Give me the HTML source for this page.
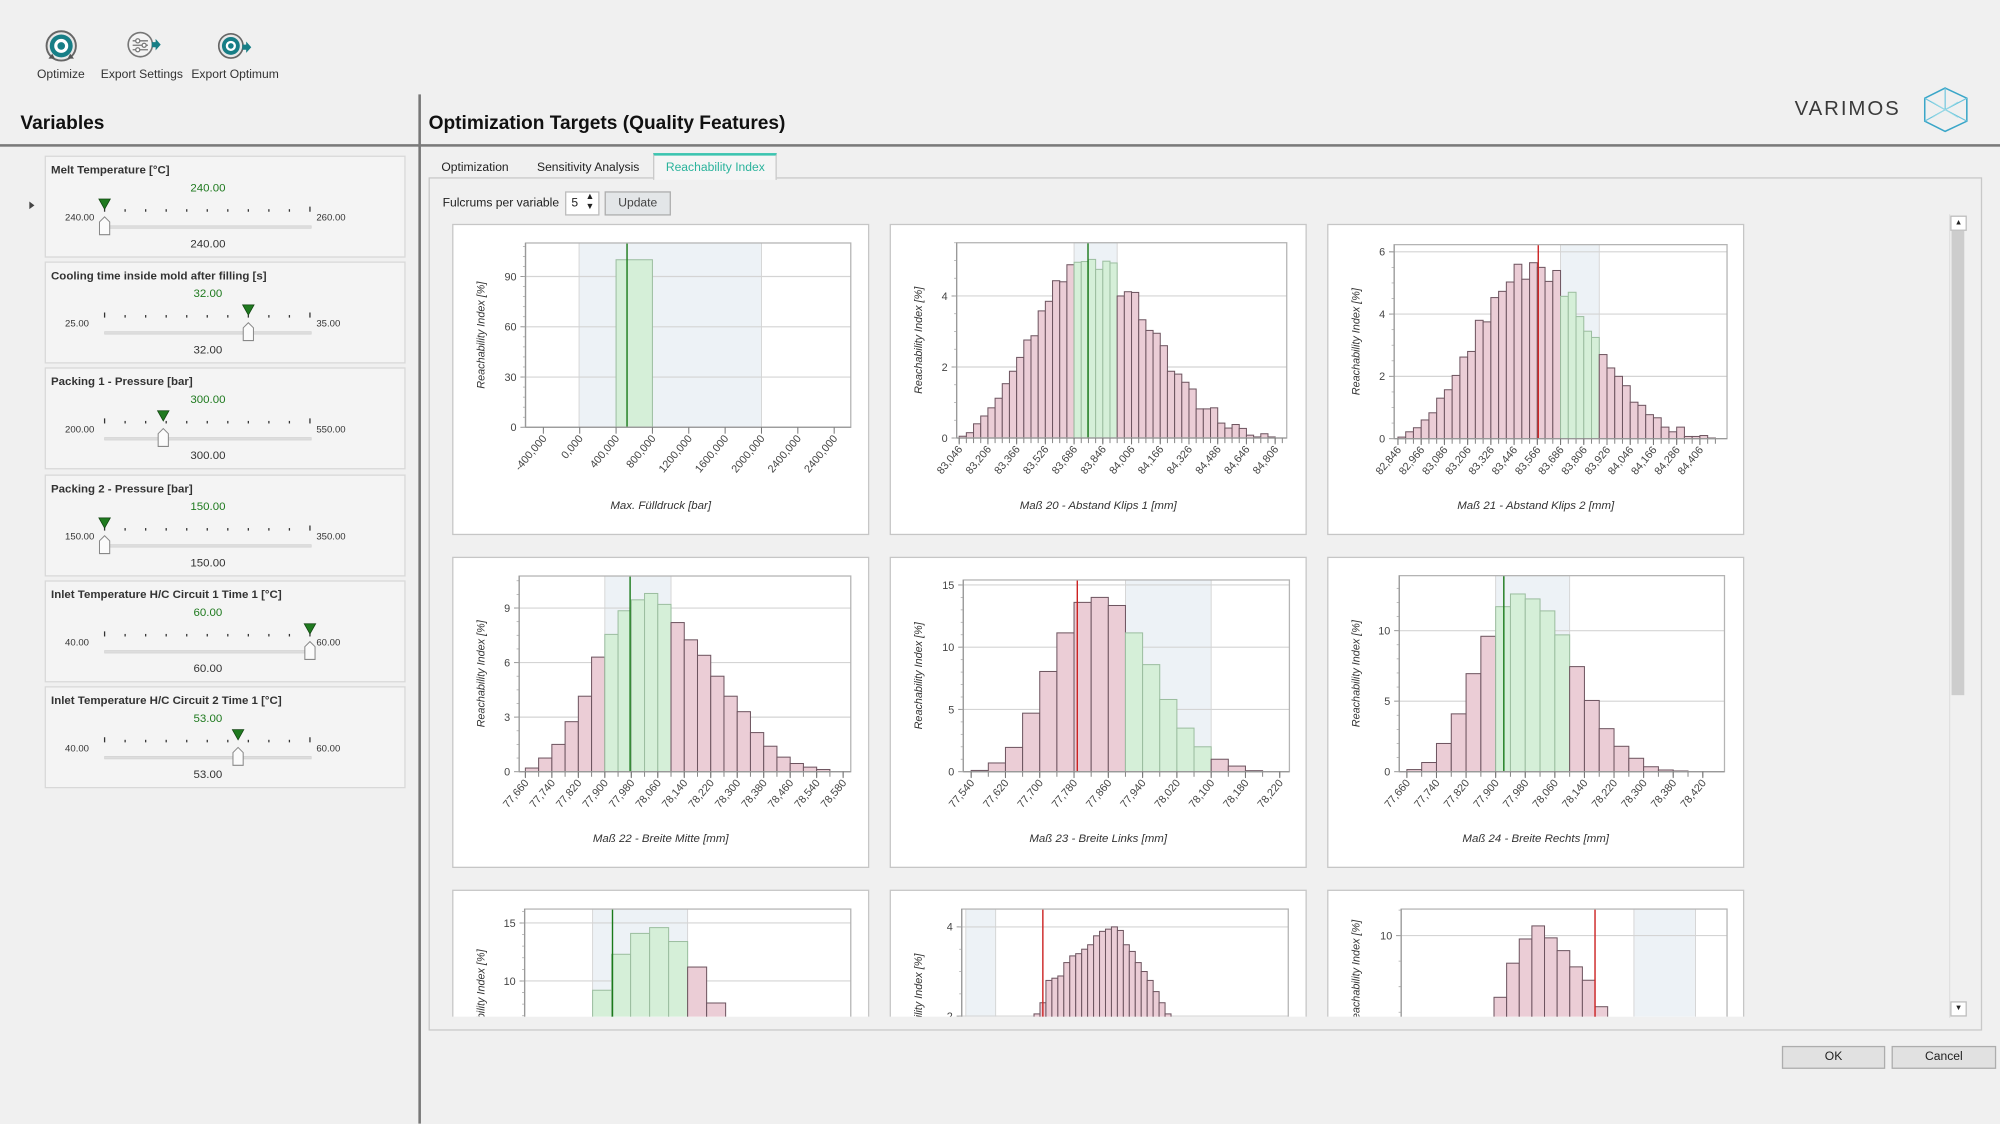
<!DOCTYPE html>
<html><head><meta charset="utf-8">
<style>
html{overflow:hidden;width:2000px;height:1124px;}
html,body{margin:0;padding:0;background:#f0f0f0;}
body{width:2000px;height:1124px;overflow:hidden;position:relative;font-family:"Liberation Sans",sans-serif;}
#w{position:absolute;left:0;top:0;width:1568px;height:881px;overflow:hidden;transform:scale(1.27551);transform-origin:0 0;background:#f0f0f0;color:#222;}
.a{position:absolute;white-space:nowrap;}
.tb{font-size:9.5px;color:#333;}
.card{position:absolute;left:35px;width:281px;height:78px;background:#f4f4f4;border:1px solid #d8d8d8;}
.ct{position:absolute;left:4px;top:5px;font-size:9px;font-weight:bold;color:#333;}
.gv{position:absolute;left:0;width:254px;text-align:center;top:19px;font-size:9px;color:#1f7a1f;}
.bv{position:absolute;left:0;width:254px;text-align:center;top:63px;font-size:9px;color:#333;}
.ll{position:absolute;left:15px;top:43px;font-size:7.5px;color:#333;}
.rl{position:absolute;left:212px;top:43px;font-size:7.5px;color:#333;}
.btn{position:absolute;background:#e1e1e1;border:1px solid #adadad;font-size:9.5px;text-align:center;color:#222;}
</style></head><body>
<div id="w">
<svg class="a" style="left:0;top:0" width="260" height="70">
 <circle cx="48" cy="36" r="11.5" fill="#e8e8e8" stroke="#666" stroke-width="1.5"/>
 <circle cx="48" cy="36" r="9" fill="#177e86"/>
 <circle cx="48" cy="36" r="5.5" fill="#fff"/>
 <circle cx="48" cy="36" r="3" fill="#177e86"/>
 <path d="M38 46 l3 -4 l2 4z M58 46 l-3 -4 l-2 4z" fill="#555"/>
 <circle cx="110" cy="35" r="9.5" fill="#f4f4f4" stroke="#777" stroke-width="1.3"/>
 <path d="M104 32h12M104 35.5h12M104 39h12" stroke="#777" stroke-width="1"/>
 <circle cx="108" cy="32" r="1.6" fill="#fff" stroke="#777"/><circle cx="113" cy="35.5" r="1.6" fill="#fff" stroke="#777"/><circle cx="108" cy="39" r="1.6" fill="#fff" stroke="#777"/>
 <path d="M119 33h3v-2.5l4 4.5-4 4.5v-2.5h-3z" fill="#177e86"/>
 <circle cx="181" cy="36" r="9.5" fill="#e8e8e8" stroke="#666" stroke-width="1.3"/>
 <circle cx="181" cy="36" r="7" fill="#177e86"/><circle cx="181" cy="36" r="4" fill="#fff"/><circle cx="181" cy="36" r="2.2" fill="#177e86"/>
 <path d="M190 35h3v-2.5l4 4.5-4 4.5v-2.5h-3z" fill="#177e86"/>
</svg>
<div class="a tb" style="left:29px;top:53px">Optimize</div>
<div class="a tb" style="left:79px;top:53px">Export Settings</div>
<div class="a tb" style="left:150px;top:53px">Export Optimum</div>

<div class="a" style="left:328px;top:74px;width:2px;height:807px;background:#777"></div>
<div class="a" style="left:0;top:113px;width:1568px;height:2px;background:#7a7a7a"></div>
<div class="a" style="left:16px;top:88px;font-size:15px;font-weight:bold;color:#111">Variables</div>
<div class="a" style="left:336px;top:88px;font-size:15px;font-weight:bold;color:#111">Optimization Targets (Quality Features)</div>
<div class="a" style="left:1407px;top:77px;font-size:16px;letter-spacing:1.5px;color:#3a3a3a">VARIMOS</div>
<svg class="a" style="left:1505px;top:66px" width="44" height="40">
 <path d="M20 3 L37 11 L37 29 L20 37 L4 29 L4 11 Z" fill="none" stroke="#3aa6c8" stroke-width="1.2"/>
 <path d="M20 3 L20 20 L37 29 M20 20 L4 29 M4 11 L20 20 L37 11" fill="none" stroke="#6bc4dd" stroke-width="0.9"/>
 <path d="M10 14 L30 26 M30 14 L10 26" fill="none" stroke="#9adbe6" stroke-width="0.7"/>
</svg>

<svg class="a" style="left:20px;top:156px" width="10" height="10"><path d="M3 2 L7 5 L3 8z" fill="#444"/></svg>
<div id="cards"></div>

<div class="a" style="left:336px;top:139px;width:1216px;height:667px;border:1px solid #c8c8c8;background:#f0f0f0"></div>
<div class="a" style="left:512px;top:120px;width:95px;height:19px;border:1px solid #c8c8c8;border-bottom:none;border-top:2px solid #3cc4b0;background:#f5f5f5"></div>
<div class="a" style="left:346px;top:126px;font-size:9.5px">Optimization</div>
<div class="a" style="left:421px;top:126px;font-size:9.5px">Sensitivity Analysis</div>
<div class="a" style="left:522px;top:126px;font-size:9.5px;color:#2bb39c">Reachability Index</div>
<div class="a" style="left:347px;top:154px;font-size:9.5px">Fulcrums per variable</div>
<div class="a" style="left:443px;top:150px;width:25px;height:17px;border:1px solid #bbb;background:#fff;font-size:9.5px"><span style="position:absolute;left:4px;top:3px">5</span><span style="position:absolute;left:15px;top:0px;font-size:7px;line-height:8px">▲<br>▼</span></div>
<div class="btn" style="left:474px;top:150px;width:50px;height:17px;line-height:17px;background:#e3e6e8;color:#444">Update</div>

<svg class="a" style="left:0;top:0" width="1568" height="881" id="sv"></svg>

<div class="a" style="left:1528px;top:168px;width:12px;height:630px;background:#f0f0f0;border-left:1px solid #e0e0e0"></div>
<div class="a" style="left:1530px;top:181px;width:10px;height:364px;background:#cdcdcd"></div>
<div class="a" style="left:1529px;top:169px;width:11px;height:10px;border:1px solid #bbb;background:#fff;font-size:6px;text-align:center;line-height:10px">▲</div>
<div class="a" style="left:1529px;top:785px;width:11px;height:10px;border:1px solid #bbb;background:#fff;font-size:6px;text-align:center;line-height:10px">▼</div>

<div class="btn" style="left:1397px;top:820px;width:79px;height:16px;line-height:16px">OK</div>
<div class="btn" style="left:1483px;top:820px;width:80px;height:16px;line-height:16px">Cancel</div>
</div>

<script>
var V=[["Melt Temperature [°C]","240.00","240.00","260.00",0,122],
["Cooling time inside mold after filling [s]","32.00","25.00","35.00",0.7,205],
["Packing 1 - Pressure [bar]","300.00","200.00","550.00",0.2857,288],
["Packing 2 - Pressure [bar]","150.00","150.00","350.00",0,372],
["Inlet Temperature H/C Circuit 1 Time 1 [°C]","60.00","40.00","60.00",1,455],
["Inlet Temperature H/C Circuit 2 Time 1 [°C]","53.00","40.00","60.00",0.65,538]];
var h='';
V.forEach(function(v){
 var px=46+v[4]*161;
 var tk='';for(var i=0;i<11;i++){var x=46+i*16.1;var l=(i==0||i==10)?4:2;tk+='<rect x="'+(x-0.5)+'" y="'+(43-l)+'" width="1" height="'+l+'" fill="#333"/>';}
 h+='<div class="card" style="top:'+v[5]+'px"><div class="ct">'+v[0]+'</div><div class="gv">'+v[1]+'</div>'+
 '<div class="ll">'+v[2]+'</div><div class="rl">'+v[3]+'</div><div class="bv">'+v[1]+'</div>'+
 '<svg style="position:absolute;left:0;top:0" width="281" height="78">'+tk+
 '<rect x="46" y="54" width="162" height="2" fill="#ddd" stroke="#d0d0d0" stroke-width="0.5"/>'+
 '<path d="M'+(px-4.5)+' 33 L'+(px+4.5)+' 33 L'+px+' 41z" fill="#1f7a1f" stroke="#114411" stroke-width="0.6"/>'+
 '<path d="M'+(px-4)+' 51 L'+px+' 47 L'+(px+4)+' 51 L'+(px+4)+' 61 L'+(px-4)+' 61z" fill="#fbfbfb" stroke="#888" stroke-width="0.8"/>'+
 '</svg></div>';
});
document.getElementById('cards').innerHTML=h;

function chart(o){
 var s='';
 var cx=o.cx,cy=o.cy,L=o.L,R=o.R,T=o.T,B=o.B;
 function Y(v){return B-v*(B-T)/o.ymax;}
 s+='<rect x="'+cx+'" y="'+cy+'" width="326" height="243" fill="#fff" stroke="#c6c6c6"/>';
 s+='<rect x="'+L+'" y="'+T+'" width="'+(R-L)+'" height="'+(B-T)+'" fill="#fff"/>';
 s+='<rect x="'+o.band[0]+'" y="'+T+'" width="'+(o.band[1]-o.band[0])+'" height="'+(B-T)+'" fill="#edf2f6" stroke="#d3d3d3" stroke-width="0.7"/>';
 o.yt.forEach(function(v){ if(v>0) s+='<line x1="'+L+'" x2="'+R+'" y1="'+Y(v)+'" y2="'+Y(v)+'" stroke="#d4d4d4" stroke-width="0.9"/>';
  s+='<text x="'+(L-7)+'" y="'+(Y(v)+3)+'" font-size="8.5" fill="#444" text-anchor="end">'+v+'</text>';
  s+='<line x1="'+(L-4)+'" x2="'+L+'" y1="'+Y(v)+'" y2="'+Y(v)+'" stroke="#999" stroke-width="0.8"/>';});
 for(var m=0;m<=o.ymax;m+=o.minor){s+='<line x1="'+(L-2)+'" x2="'+L+'" y1="'+Y(m)+'" y2="'+Y(m)+'" stroke="#aaa" stroke-width="0.6"/>';}
 o.bars.forEach(function(hh,i){var x=o.b0+i*o.bw;var g=(i>=o.green[0]&&i<=o.green[1]);
  if(hh<=0)return;
  s+='<rect x="'+x+'" y="'+Y(hh)+'" width="'+o.bw+'" height="'+(B-Y(hh))+'" fill="'+(g?'#d5efd8':'#ebcdd6')+'" stroke="'+(g?'#9cbea0':'#6e5560')+'" stroke-width="0.8"/>';});
 s+='<line x1="'+o.line[0]+'" x2="'+o.line[0]+'" y1="'+T+'" y2="'+B+'" stroke="'+o.line[1]+'" stroke-width="1.1"/>';
 s+='<rect x="'+L+'" y="'+T+'" width="'+(R-L)+'" height="'+(B-T)+'" fill="none" stroke="#b4b4b4" stroke-width="1"/>';
 s+='<line x1="'+L+'" x2="'+R+'" y1="'+B+'" y2="'+B+'" stroke="#999"/><line x1="'+L+'" x2="'+L+'" y1="'+T+'" y2="'+B+'" stroke="#999"/>';
 if(o.xt){o.xt.forEach(function(x){s+='<line x1="'+x+'" x2="'+x+'" y1="'+B+'" y2="'+(B+4)+'" stroke="#888" stroke-width="0.8"/>';});}
 if(o.labs){o.labs.forEach(function(t,i){var x=o.lx[i];
  s+='<line x1="'+x+'" x2="'+x+'" y1="'+B+'" y2="'+(B+5)+'" stroke="#777" stroke-width="0.8"/>';
  s+='<text transform="translate('+(x+3)+','+(B+9)+') rotate(-50)" font-size="8.5" fill="#444" text-anchor="end">'+t+'</text>';});}
 s+='<text transform="translate('+(cx+25)+','+((T+B)/2)+') rotate(-90)" font-size="8.5" font-style="italic" fill="#333" text-anchor="middle">Reachability Index [%]</text>';
 if(o.title) s+='<text x="'+(cx+163)+'" y="'+(cy+223)+'" font-size="9" font-style="italic" fill="#333" text-anchor="middle">'+o.title+'</text>';
 return s;
}
function rng(a,st,n){var r=[];for(var i=0;i<n;i++)r.push(a+i*st);return r;}
var out='<defs><clipPath id="cp"><rect x="337" y="168" width="1190" height="629"/></clipPath></defs><g clip-path="url(#cp)">';
out+=chart({cx:355,cy:176,L:412,R:667,T:190.5,B:335,ymax:110,yt:[0,30,60,90],minor:6,
 bars:[100],b0:483,bw:28.5,green:[0,0],band:[454,597],line:[491.6,'#1a7a1a'],
 labs:["-400,000","0,000","400,000","800,000","1200,000","1600,000","2000,000","2400,000","2400,000"],lx:rng(426,28.5,9),title:"Max. Fülldruck [bar]"});
var b2=[0.05,0.15,0.4,0.62,0.85,1.12,1.53,1.88,2.27,2.76,2.88,3.58,3.85,4.43,4.4,4.88,4.95,4.97,5.03,4.75,4.98,4.93,4.0,4.12,4.1,3.33,3.03,2.95,2.6,1.88,1.8,1.57,1.38,0.82,0.82,0.85,0.42,0.28,0.38,0.27,0.08,0.03,0.12,0.03];
out+=chart({cx:698,cy:176,L:750,R:1008.8,T:190.3,B:343.4,ymax:5.5,yt:[0,2,4],minor:0.5,
 bars:b2,b0:752,bw:5.63,green:[16,21],band:[752+16*5.63,752+22*5.63],line:[853,'#1a7a1a'],xt:rng(752,5.63,46),
 labs:["83,046","83,206","83,366","83,526","83,686","83,846","84,006","84,166","84,326","84,486","84,646","84,806"],lx:rng(752,22.52,12),title:"Maß 20 - Abstand Klips 1 [mm]"});
var b3=[0.05,0.22,0.35,0.6,0.83,1.3,1.57,2.03,2.62,2.8,3.8,3.75,4.53,4.73,5.03,5.6,5.12,5.65,5.5,5.05,5.4,4.57,4.7,3.92,3.45,3.25,2.7,2.27,2.0,1.7,1.17,1.07,0.77,0.67,0.37,0.22,0.37,0.07,0.07,0.1,0.02];
out+=chart({cx:1041,cy:176,L:1093,R:1354,T:191.8,B:343.9,ymax:6.23,yt:[0,2,4,6],minor:0.5,
 bars:b3,b0:1096,bw:6.07,green:[21,25],band:[1096+21*6.07,1096+26*6.07],line:[1206,'#cc2222'],xt:rng(1096,6.07,42),
 labs:["82,846","82,966","83,086","83,206","83,326","83,446","83,566","83,686","83,806","83,926","84,046","84,166","84,286","84,406"],lx:rng(1096,18.21,14),title:"Maß 21 - Abstand Klips 2 [mm]"});
var b4=[0.2,0.75,1.5,2.75,4.15,6.3,7.55,8.85,9.45,9.8,9.2,8.2,7.25,6.4,5.25,4.15,3.3,2.15,1.4,0.8,0.45,0.25,0.12];
out+=chart({cx:355,cy:437,L:407,R:667,T:451.6,B:605,ymax:10.76,yt:[0,3,6,9],minor:0.75,
 bars:b4,b0:411.9,bw:10.38,green:[6,10],band:[411.9+6*10.38,411.9+11*10.38],line:[494,'#1a7a1a'],xt:rng(411.9,10.38,25),
 labs:["77,660","77,740","77,820","77,900","77,980","78,060","78,140","78,220","78,300","78,380","78,460","78,540","78,580"],lx:rng(411.9,20.76,13),title:"Maß 22 - Breite Mitte [mm]"});
var b5=[0.1,0.7,1.95,4.7,8.05,11.15,13.6,14.0,13.35,11.15,8.6,5.8,3.5,2.0,1.0,0.45,0.08];
out+=chart({cx:698,cy:437,L:755.2,R:1010.9,T:454.7,B:605,ymax:15.4,yt:[0,5,10,15],minor:1,
 bars:b5,b0:761.4,bw:13.44,green:[9,13],band:[761.4+9*13.44,761.4+14*13.44],line:[844.6,'#cc2222'],xt:rng(761.4,13.44,19),
 labs:["77,540","77,620","77,700","77,780","77,860","77,940","78,020","78,100","78,180","78,220"],lx:rng(761.4,26.88,10),title:"Maß 23 - Breite Links [mm]"});
var b6=[0.15,0.65,2.0,4.1,6.95,9.6,11.7,12.6,12.25,11.4,9.7,7.45,5.05,3.05,1.8,0.95,0.35,0.12,0.05];
out+=chart({cx:1041,cy:437,L:1097,R:1352,T:451.3,B:605,ymax:13.9,yt:[0,5,10],minor:1,
 bars:b6,b0:1103,bw:11.6,green:[6,10],band:[1103+6*11.6,1103+11*11.6],line:[1179,'#1a7a1a'],xt:rng(1103,11.6,21),
 labs:["77,660","77,740","77,820","77,900","77,980","78,060","78,140","78,220","78,300","78,380","78,420"],lx:rng(1103,23.2,11),title:"Maß 24 - Breite Rechts [mm]"});
out+=chart({cx:355,cy:698,L:411.3,R:667,T:712.7,B:860,ymax:16.2,yt:[0,5,10,15],minor:1,
 bars:[9.2,12.3,14.1,14.6,13.4,11.2,8.1,5,3,1.5,0.6,0.2],b0:464.6,bw:14.9,green:[0,4],band:[464.6,539.1],line:[480.2,'#1a7a1a']});
var b8=[1.95,2.05,2.3,2.8,2.85,2.9,3.2,3.35,3.4,3.5,3.6,3.8,3.9,3.95,4.0,3.92,3.6,3.45,3.2,3.0,2.8,2.55,2.3,2.05,1.95];
out+=chart({cx:698,cy:698,L:754,R:1010,T:712.7,B:866.6,ymax:4.4,yt:[0,2,4],minor:0.5,
 bars:b8,b0:806,bw:4.67,green:[-1,-1],band:[757.2,780.6],line:[817.6,'#cc2222']});
out+=chart({cx:1041,cy:698,L:1098.5,R:1354,T:712.7,B:813.6,ymax:12.6,yt:[0,10],minor:2.5,
 bars:[3.96,7.3,9.67,10.95,9.78,8.53,6.94,5.63,3.04],b0:1171.3,bw:9.9,green:[-1,-1],band:[1281,1329.3],line:[1250.5,'#cc2222']});
out+='</g>';
document.getElementById('sv').innerHTML=out;
</script>
</body></html>
